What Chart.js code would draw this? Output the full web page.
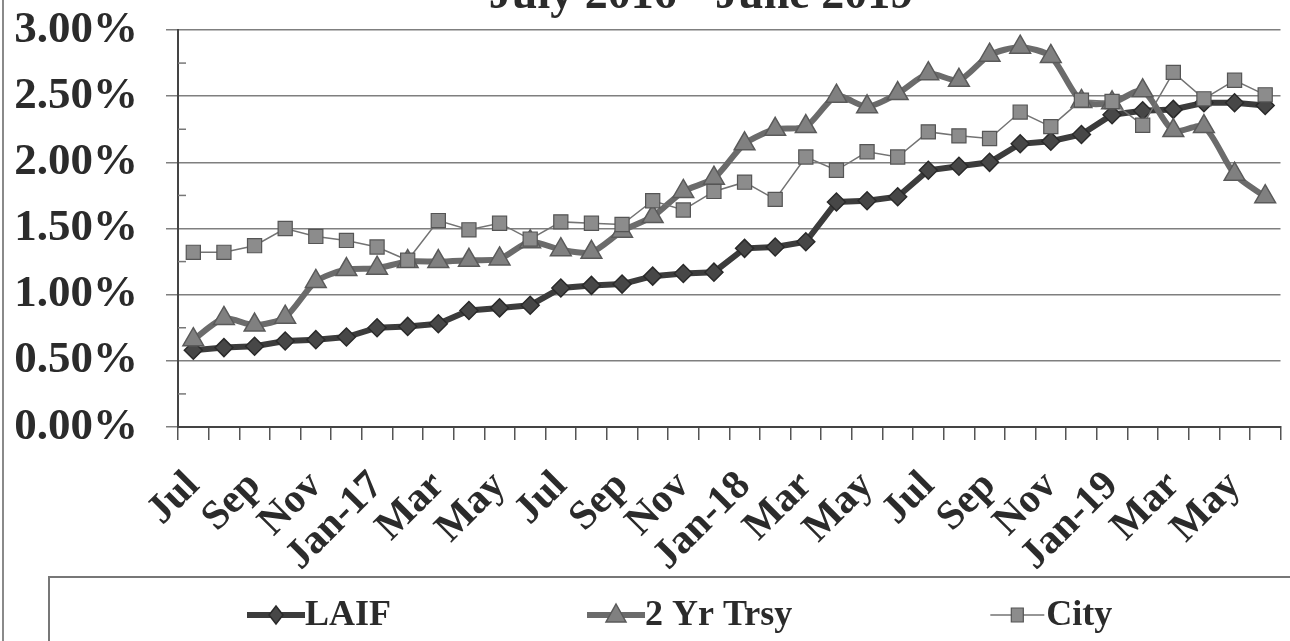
<!DOCTYPE html>
<html>
<head>
<meta charset="utf-8">
<script src="https://cdn.jsdelivr.net/npm/chart.js@4/dist/chart.umd.min.js"></script>
<style>
  html, body { margin: 0; padding: 0; background: #fff; overflow: hidden; width: 1290px; height: 641px; }
  #wrap { position: absolute; left: 0; top: -40px; width: 1294px; height: 683px; }
</style>
</head>
<body>
<div id="wrap"><canvas id="c" width="1294" height="683"></canvas></div>
<script>
// ---- data ----
const months = ['Jul-16','Aug-16','Sep-16','Oct-16','Nov-16','Dec-16','Jan-17','Feb-17','Mar-17','Apr-17','May-17','Jun-17',
                'Jul-17','Aug-17','Sep-17','Oct-17','Nov-17','Dec-17','Jan-18','Feb-18','Mar-18','Apr-18','May-18','Jun-18',
                'Jul-18','Aug-18','Sep-18','Oct-18','Nov-18','Dec-18','Jan-19','Feb-19','Mar-19','Apr-19','May-19','Jun-19'];
const tickLabels = ['Jul','Sep','Nov','Jan-17','Mar','May','Jul','Sep','Nov','Jan-18','Mar','May','Jul','Sep','Nov','Jan-19','Mar','May'];
const laif = [0.58,0.60,0.61,0.65,0.66,0.68,0.75,0.76,0.78,0.88,0.90,0.92,1.05,1.07,1.08,1.14,1.16,1.17,
              1.35,1.36,1.40,1.70,1.71,1.74,1.94,1.97,2.00,2.14,2.16,2.21,2.36,2.39,2.40,2.45,2.45,2.43];
const trsy = [0.66,0.82,0.77,0.83,1.10,1.19,1.20,1.25,1.25,1.26,1.27,1.40,1.34,1.32,1.48,1.59,1.78,1.88,
              2.14,2.25,2.27,2.50,2.42,2.52,2.67,2.62,2.81,2.87,2.80,2.46,2.45,2.54,2.24,2.27,1.91,1.74];
const city = [1.32,1.32,1.37,1.50,1.44,1.41,1.36,1.26,1.56,1.49,1.54,1.42,1.55,1.54,1.53,1.71,1.64,1.78,
              1.85,1.72,2.04,1.94,2.08,2.04,2.23,2.20,2.18,2.38,2.27,2.47,2.46,2.28,2.68,2.48,2.62,2.51];
const seriesNames = ['LAIF','2 Yr Trsy','City'];
const titleText = 'July 2016 - June 2019';

const SERIF = "'Liberation Serif', 'Times New Roman', serif";
const TEXT = '#2b2b2b';

function drawLegendMarker(g, kind, x0, cy) {
  const w = 58, cx = x0 + w / 2;
  g.save();
  if (kind === 0) {
    g.strokeStyle = '#3c3c3c'; g.lineWidth = 6;
    g.beginPath(); g.moveTo(x0, cy); g.lineTo(x0 + w, cy); g.stroke();
    g.fillStyle = '#474747'; g.strokeStyle = '#2a2a2a'; g.lineWidth = 1.5;
    g.beginPath(); g.moveTo(cx, cy - 9); g.lineTo(cx + 7, cy); g.lineTo(cx, cy + 9); g.lineTo(cx - 7, cy); g.closePath(); g.fill(); g.stroke();
  } else if (kind === 1) {
    g.strokeStyle = '#6b6b6b'; g.lineWidth = 6;
    g.beginPath(); g.moveTo(x0, cy); g.lineTo(x0 + w, cy); g.stroke();
    g.fillStyle = '#808080'; g.strokeStyle = '#5a5a5a'; g.lineWidth = 1.5;
    g.beginPath(); g.moveTo(cx, cy - 11); g.lineTo(cx + 10, cy + 7); g.lineTo(cx - 10, cy + 7); g.closePath(); g.fill(); g.stroke();
  } else {
    g.strokeStyle = '#737373'; g.lineWidth = 1.5;
    g.beginPath(); g.moveTo(x0 + 2, cy); g.lineTo(x0 + w - 2, cy); g.stroke();
    g.fillStyle = '#8c8c8c'; g.strokeStyle = '#555'; g.lineWidth = 1.2;
    g.beginPath(); g.rect(cx - 6, cy - 7, 12, 14); g.fill(); g.stroke();
  }
  g.restore();
}

const decor = {
  id: 'decor',
  afterDraw(chart) {
    const ctx = chart.ctx;
    const y = chart.scales.y, ca = chart.chartArea;
    ctx.save();
    // minor ticks inside plot
    ctx.strokeStyle = '#777'; ctx.lineWidth = 1.5;
    for (let v = 0.25; v < 3; v += 0.5) {
      const py = y.getPixelForValue(v);
      ctx.beginPath(); ctx.moveTo(ca.left, py); ctx.lineTo(ca.left + 8, py); ctx.stroke();
    }
    // outer frame left line
    ctx.strokeStyle = '#8a8a8a'; ctx.lineWidth = 2;
    ctx.beginPath(); ctx.moveTo(3, 0); ctx.lineTo(3, chart.height); ctx.stroke();
    // title (partly cut off at the top of the picture)
    ctx.fillStyle = TEXT;
    ctx.font = 'bold 46px ' + SERIF;
    ctx.textAlign = 'center'; ctx.textBaseline = 'alphabetic';
    ctx.fillText(titleText, 701, 48);
    // legend box
    const lt = ca.bottom + 150;
    ctx.strokeStyle = '#777'; ctx.lineWidth = 2;
    ctx.beginPath(); ctx.moveTo(1300, lt); ctx.lineTo(49, lt); ctx.lineTo(49, chart.height + 10); ctx.stroke();
    // legend items
    ctx.font = 'bold 36px ' + SERIF;
    ctx.textAlign = 'left'; ctx.textBaseline = 'middle';
    const cy = lt + 38;
    let x = 247;
    seriesNames.forEach((n, i) => {
      drawLegendMarker(ctx, i, x, cy);
      ctx.fillStyle = TEXT;
      ctx.fillText(n, x + 58, cy + 1);
      x += 58 + ctx.measureText(n).width + 196;
    });
    ctx.restore();
  }
};

new Chart(document.getElementById('c'), {
  type: 'line',
  data: {
    labels: months,
    datasets: [
      { label: seriesNames[0], data: laif, order: 2, borderColor: '#3c3c3c', borderWidth: 6,
        pointStyle: 'rectRot', pointRadius: 9, pointBackgroundColor: '#474747', pointBorderColor: '#2a2a2a', pointBorderWidth: 1.5, tension: 0 },
      { label: seriesNames[1], data: trsy, order: 1, borderColor: '#6b6b6b', borderWidth: 6,
        pointStyle: 'triangle', pointRadius: 12, pointBackgroundColor: '#808080', pointBorderColor: '#5a5a5a', pointBorderWidth: 1.5, tension: 0.25 },
      { label: seriesNames[2], data: city, order: 0, borderColor: '#737373', borderWidth: 1.5,
        pointStyle: 'rect', pointRadius: 10, pointBackgroundColor: '#8c8c8c', pointBorderColor: '#555', pointBorderWidth: 1.2, tension: 0 }
    ]
  },
  options: {
    responsive: false,
    animation: false,
    devicePixelRatio: 1,
    layout: { padding: { left: 0, right: 0, top: 70, bottom: 66 } },
    plugins: {
      tooltip: { enabled: false },
      title: { display: false },
      legend: { display: false }
    },
    scales: {
      x: {
        type: 'category', offset: true,
        grid: { offset: true, drawOnChartArea: false, drawTicks: true, tickLength: 13, color: '#555', lineWidth: 1.5 },
        border: { display: true, color: '#444', width: 2 },
        ticks: {
          autoSkip: false, maxRotation: 45, minRotation: 45, padding: 22, color: TEXT,
          font: { family: SERIF, size: 41, weight: 'bold' },
          callback(v, i) { return i % 2 === 0 ? tickLabels[i / 2] : ''; }
        },
        afterFit(s) { s.height = 150; s.paddingLeft = 0; s.paddingRight = 0; }
      },
      y: {
        min: 0, max: 3,
        grid: { color: '#7f7f7f', lineWidth: 1.5, tickLength: 12, drawTicks: true },
        border: { display: true, color: '#444', width: 2 },
        ticks: {
          stepSize: 0.5, padding: 28, color: TEXT,
          font: { family: SERIF, size: 45, weight: 'bold' },
          callback(v) { return v.toFixed(2) + '%'; }
        },
        afterFit(s) { s.width = 178; s.paddingTop = 0; s.paddingBottom = 0; }
      }
    }
  },
  plugins: [decor]
});
</script>
</body>
</html>
